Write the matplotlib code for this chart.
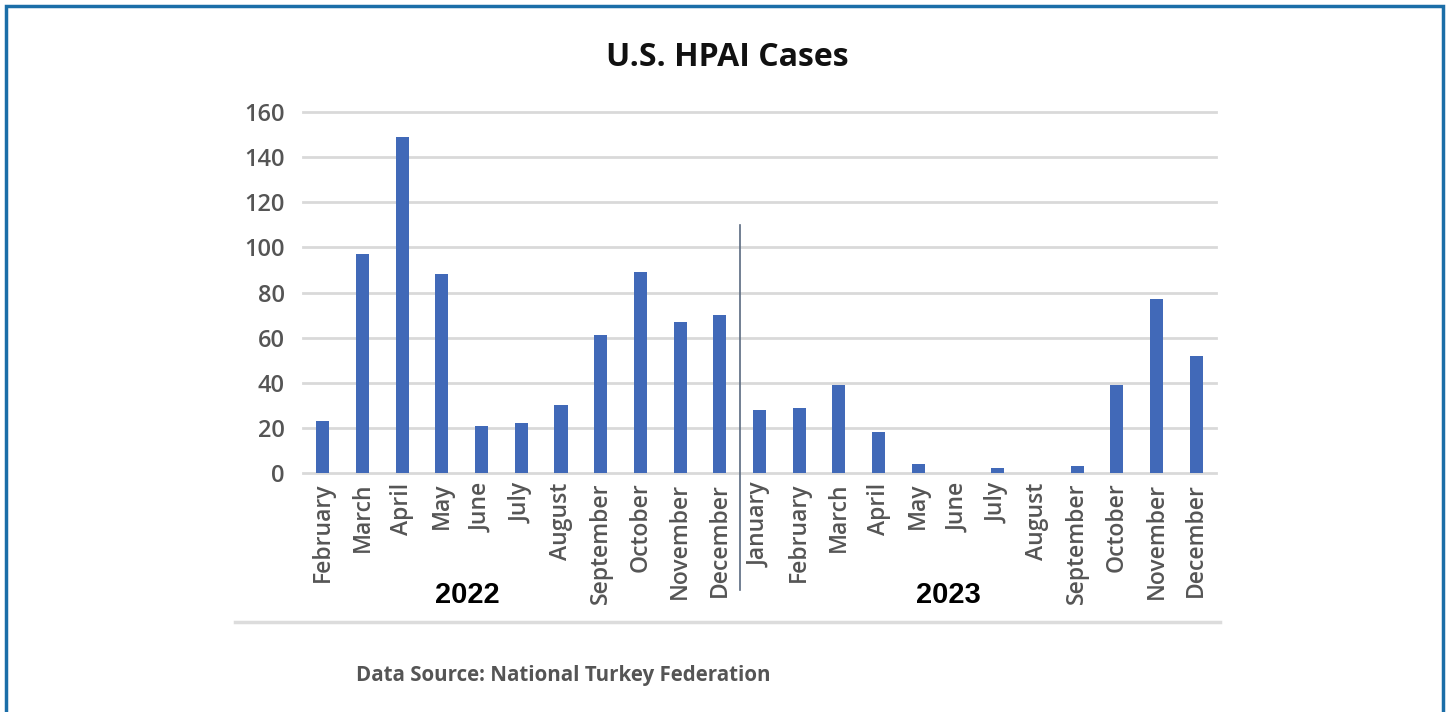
import matplotlib
matplotlib.use("Agg")
import matplotlib.pyplot as plt
from matplotlib.patches import Rectangle
from matplotlib.lines import Line2D

months = ["February", "March", "April", "May", "June", "July", "August",
          "September", "October", "November", "December",
          "January", "February", "March", "April", "May", "June", "July",
          "August", "September", "October", "November", "December"]
cases = [23, 97, 149, 88, 21, 22, 30, 61, 89, 67, 70,
         28, 29, 39, 18, 4, 0, 2, 0, 3, 39, 77, 52]
years = ["2022", "2023"]
year_label_x = [3.64, 15.77]
year_split = 10.5
y_ticks = [0, 20, 40, 60, 80, 100, 120, 140, 160]

BAR = "#4169b8"
GRID = "#d9d9d9"
TXT = "#555555"

fig = plt.figure(figsize=(14.49, 7.12), dpi=100)
fig.patch.set_facecolor("white")

# blue frame (open at the bottom)
fig.add_artist(Rectangle((6 / 1449, -0.1), (1443 - 6) / 1449, 1.1 - 6 / 712,
                         transform=fig.transFigure, fill=False,
                         edgecolor="#1b6ea8", linewidth=2.5))

ax = fig.add_axes([303 / 1449, 1 - 473 / 712, (1216 - 303) / 1449, (473 - 112) / 712])
x = list(range(len(months)))
ax.set_xlim(-0.5, len(months) - 0.5)
ax.set_ylim(0, 160)

for t in y_ticks:
    ax.axhline(t, color=GRID, linewidth=2, zorder=0, clip_on=False)

ax.bar(x, cases, width=0.33, color=BAR, zorder=2)

for s in ax.spines.values():
    s.set_visible(False)
ax.set_yticks(y_ticks)
ax.set_yticklabels([str(t) for t in y_ticks], fontsize=17, color=TXT,
                   family="Open Sans", fontweight="semibold")
ax.set_xticks(x)
ax.set_xticklabels(months, rotation=90, fontsize=16.5, color=TXT,
                   family="Open Sans", fontweight="semibold")
ax.tick_params(axis="y", length=0, pad=13)
ax.tick_params(axis="x", length=0, pad=7)

# divider between the two years
ax.plot([year_split, year_split], [110, -52], color="#5a6a80", linewidth=1.2,
        clip_on=False, zorder=3)

for lab, xv in zip(years, year_label_x):
    ax.text(xv, -54, lab, ha="center", va="center", fontsize=21,
            fontweight="bold", family="Liberation Sans", color="black",
            clip_on=False)

fig.add_artist(Line2D([235 / 1449, 1220 / 1449], [1 - 622 / 712] * 2,
                      transform=fig.transFigure, color="#dcdcdc", linewidth=2.5))

fig.text(727 / 1449, 1 - 57 / 712, "U.S. HPAI Cases", ha="center", va="center",
         fontsize=23, fontweight="bold", family="Open Sans", color="#111111")
fig.text(356 / 1449, 1 - 675 / 712, "Data Source: National Turkey Federation",
         ha="left", va="center", fontsize=14.8, fontweight="bold",
         family="Open Sans", color=TXT)

fig.savefig("out.png", dpi=100, facecolor="white")
